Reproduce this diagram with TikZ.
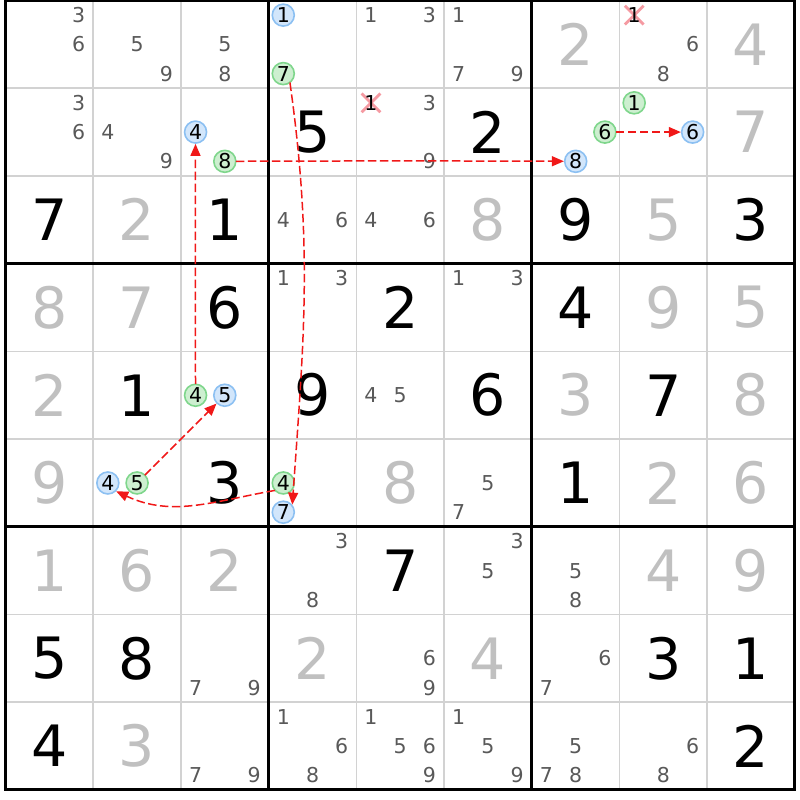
\documentclass[tikz,border=0pt]{standalone}
\usepackage{fontspec}
\setmainfont{DejaVu Sans}
\usetikzlibrary{arrows.meta,shapes.misc}

\definecolor{givengray}{HTML}{C0C0C0}
\definecolor{candgray}{HTML}{595959}
\definecolor{gridgray}{HTML}{D2D2D2}
\definecolor{ringblue}{HTML}{8CC0F2}
\definecolor{fillblue}{HTML}{D2E6FB}
\definecolor{ringgreen}{HTML}{7FD68C}
\definecolor{fillgreen}{HTML}{CDEFD0}
\definecolor{elimred}{HTML}{F59AA2}
\definecolor{linkred}{HTML}{F01818}

\tikzset{
  big/.style={inner sep=0pt, font=\fontsize{57}{57}\selectfont},
  given/.style={big, text=givengray},
  solved/.style={big, text=black},
  cand/.style={inner sep=0pt, text=candgray, font=\fontsize{20.5}{20.5}\selectfont},
  ring/.style={cand, text=black, circle, minimum size=22pt, line width=1.6pt},
  gring/.style={ring, draw=ringgreen, fill=fillgreen},
  bring/.style={ring, draw=ringblue, fill=fillblue},
  elimx/.style={cross out, draw=elimred, line width=2.8pt, minimum size=14pt, inner sep=0pt},
  link/.style={draw=linkred, line width=1.5pt, dash pattern=on 7pt off 5pt,
    -{Triangle[length=12pt,width=10pt,fill=linkred]}},
}

\begin{document}
\begin{tikzpicture}[x=87.72pt,y=-87.72pt, % 一格
  line cap=rect,
]
  \useasboundingbox (-0.0627,-0.0057) rectangle (9.0572,9.1142);
  % 细线
  \foreach \i in {1,...,8} {
    \draw[gridgray, line width=1.6pt] (\i,0) -- (\i,9);
    \draw[gridgray, line width=1.6pt] (0,\i) -- (9,\i);
  }
  % 粗线
  \foreach \i in {0,3,6,9} {
    \draw[line width=3pt] (\i,0) -- (\i,9);
    \draw[line width=3pt] (0,\i) -- (9,\i);
  }

  \foreach \r/\c/\d in {1/7/2,1/9/4,2/9/7,3/2/2,3/6/8,3/8/5,4/1/8,4/2/7,4/8/9,4/9/5,
    5/1/2,5/7/3,5/9/8,6/1/9,6/5/8,6/8/2,6/9/6,7/1/1,7/2/6,7/3/2,7/8/4,7/9/9,8/4/2,8/6/4,9/2/3}
    \node[given] (n\r\c) at (\c-0.5,\r-0.5) {\d};
  \foreach \r/\c/\d in {2/4/5,2/6/2,3/1/7,3/3/1,3/7/9,3/9/3,4/3/6,4/5/2,4/7/4,5/2/1,5/4/9,
    5/6/6,5/8/7,6/3/3,6/7/1,7/5/7,8/1/5,8/2/8,8/8/3,8/9/1,9/1/4,9/9/2}
    \node[solved] (n\r\c) at (\c-0.5,\r-0.5) {\d};

  % 候选数
  \foreach \r/\c/\d in {1/1/3,1/1/6,1/2/5,1/2/9,1/3/5,1/3/8,1/5/1,1/5/3,1/6/1,1/6/7,1/6/9,1/8/6,1/8/8,
    2/1/3,2/1/6,2/2/4,2/2/9,2/5/3,2/5/9,3/4/4,3/4/6,3/5/4,3/5/6,4/4/1,4/4/3,4/6/1,4/6/3,
    5/5/4,5/5/5,6/6/5,6/6/7,7/4/3,7/4/8,7/6/3,7/6/5,7/7/5,7/7/8,8/3/7,8/3/9,8/5/6,8/5/9,8/7/6,8/7/7,
    9/3/7,9/3/9,9/4/1,9/4/6,9/4/8,9/5/1,9/5/5,9/5/6,9/5/9,9/6/1,9/6/5,9/6/9,9/7/5,9/7/7,9/7/8,9/8/6,9/8/8} {
    \pgfmathsetmacro\candx{\c-1+(2*mod(\d-1,3)+1)/6}
    \pgfmathsetmacro\candy{\r-1+(2*int((\d-1)/3)+1)/6}
    \node[cand] (c\r\c\d) at (\candx,\candy) {\d};
  }
  % 删去的候选数
  \foreach \r/\c/\d in {1/8/1,2/5/1} {
    \pgfmathsetmacro\candx{\c-1+(2*mod(\d-1,3)+1)/6}
    \pgfmathsetmacro\candy{\r-1+(2*int((\d-1)/3)+1)/6}
    \node[elimx] (x\r\c\d) at (\candx,\candy) {};
    \node[cand, text=black] (c\r\c\d) at (x\r\c\d) {\d};
  }
  % 链
  \foreach \r/\c/\d in {1/4/7,6/4/4,6/2/5,5/3/4,2/3/8,2/7/6,2/8/1} {
    \pgfmathsetmacro\candx{\c-1+(2*mod(\d-1,3)+1)/6}
    \pgfmathsetmacro\candy{\r-1+(2*int((\d-1)/3)+1)/6}
    \node[gring] (g\r\c\d) at (\candx,\candy) {\d};
  }
  \foreach \r/\c/\d in {1/4/1,6/4/7,6/2/4,5/3/5,2/3/4,2/7/8,2/8/6} {
    \pgfmathsetmacro\candx{\c-1+(2*mod(\d-1,3)+1)/6}
    \pgfmathsetmacro\candy{\r-1+(2*int((\d-1)/3)+1)/6}
    \node[bring] (b\r\c\d) at (\candx,\candy) {\d};
  }

  \draw[link] (g147.-55) to[out=-82,in=86] (b647.40);
  \draw[link] (g644.-140) to[out=190,in=-25] (b624.-45);
  \draw[link] (g625) -- (b535);
  \draw[link] (g534) to[bend left=0.2] (b234);
  \draw[link] (g238) to[bend left=0.2] (b278);
  \draw[link] (g276) -- (b286);
\end{tikzpicture}
\end{document}
